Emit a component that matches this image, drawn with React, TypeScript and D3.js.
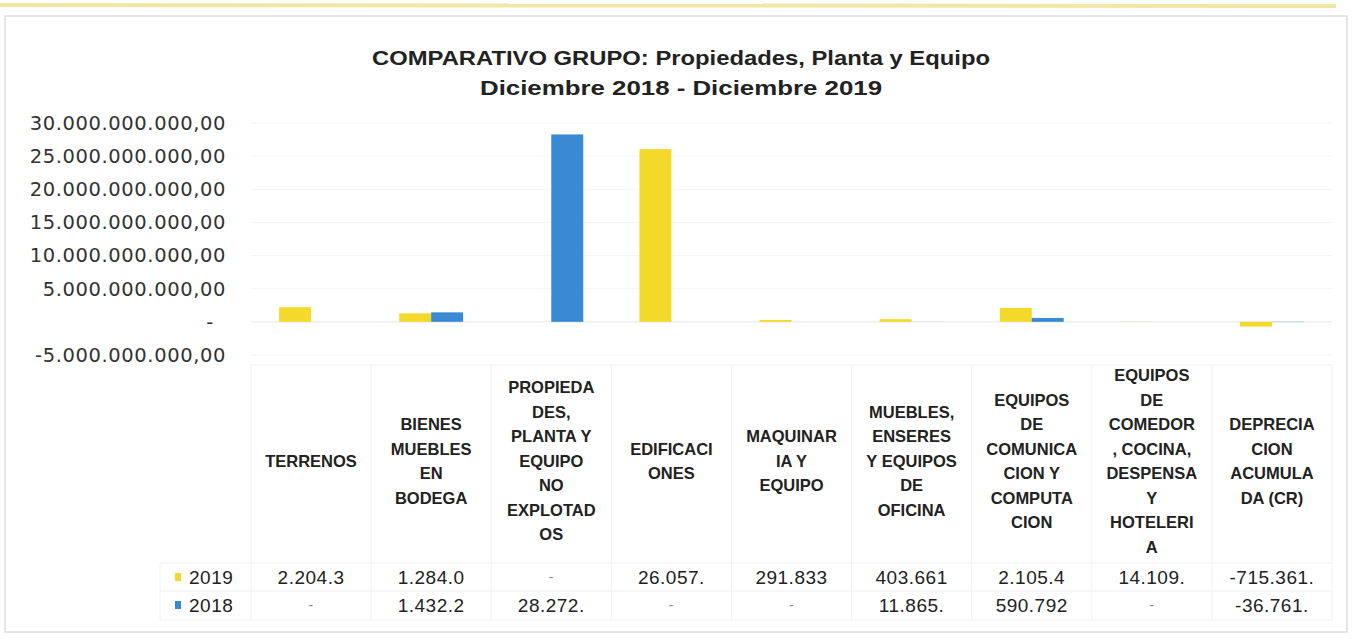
import React from "react";
import * as d3 from "d3";

const W = 1355;
const H = 639;

const categories = [
  "TERRENOS",
  "BIENES MUEBLES EN BODEGA",
  "PROPIEDADES, PLANTA Y EQUIPO NO EXPLOTADOS",
  "EDIFICACIONES",
  "MAQUINARIA Y EQUIPO",
  "MUEBLES, ENSERES Y EQUIPOS DE OFICINA",
  "EQUIPOS DE COMUNICACION Y COMPUTACION",
  "EQUIPOS DE COMEDOR, COCINA, DESPENSA Y HOTELERIA",
  "DEPRECIACION ACUMULADA (CR)",
];

const categoryLines = [
  ["TERRENOS"],
  ["BIENES", "MUEBLES", "EN", "BODEGA"],
  ["PROPIEDA", "DES,", "PLANTA Y", "EQUIPO", "NO", "EXPLOTAD", "OS"],
  ["EDIFICACI", "ONES"],
  ["MAQUINAR", "IA Y", "EQUIPO"],
  ["MUEBLES,", "ENSERES", "Y EQUIPOS", "DE", "OFICINA"],
  ["EQUIPOS", "DE", "COMUNICA", "CION Y", "COMPUTA", "CION"],
  ["EQUIPOS", "DE", "COMEDOR", ", COCINA,", "DESPENSA", "Y", "HOTELERI", "A"],
  ["DEPRECIA", "CION", "ACUMULA", "DA (CR)"],
];

const seriesNames = ["2019", "2018"];

const values2019 = [
  2204.3e6, 1284.0e6, 0, 26057e6, 291.833e6, 403.661e6, 2105.4e6, 14.109e6, -715.361e6,
];
const values2018 = [
  0, 1432.2e6, 28272e6, 0, 0, 11.865e6, 590.792e6, 0, -36.761e6,
];

const table2019 = ["2.204.3", "1.284.0", "-", "26.057.", "291.833", "403.661", "2.105.4", "14.109.", "-715.361."];
const table2018 = ["-", "1.432.2", "28.272.", "-", "-", "11.865.", "590.792", "-", "-36.761."];

const yTicks = [30e9, 25e9, 20e9, 15e9, 10e9, 5e9, 0, -5e9];
const yTickLabels = [
  "30.000.000.000,00",
  "25.000.000.000,00",
  "20.000.000.000,00",
  "15.000.000.000,00",
  "10.000.000.000,00",
  "5.000.000.000,00",
  "-",
  "-5.000.000.000,00",
];

const COLORS = ["#f3d92a", "#3a8ad3"];

export default function App() {
  const x = d3.scaleBand<number>().domain(d3.range(categories.length)).range([251, 1332]);
  const xs = d3
    .scaleBand<number>()
    .domain([0, 1])
    .range([0, x.bandwidth()])
    .paddingInner(0)
    .paddingOuter(0.88);
  const y = d3.scaleLinear().domain([-5e9, 30e9]).range([355, 123]);

  const series = [values2019, values2018];
  const tables = [table2019, table2018];

  const headerCenter = 461;
  const lineH = 24.5;
  const rowY = [577, 605];

  return (
    <svg
      width={W}
      height={H}
      style={{ position: "absolute", left: 0, top: 0, background: "#fff" }}
      fontFamily="'Liberation Sans', Arial, sans-serif"
    >
      <rect x={0} y={0} width={W} height={H} fill="#fff" />
      {/* scan highlight line */}
      <line x1={0} x2={1336} y1={5} y2={6} stroke="#f1e6a6" strokeWidth={4} />
      {/* chart frame */}
      <rect x={5} y={16} width={1342} height={616} fill="none" stroke="#d6d6d6" strokeWidth={1.2} />

      {/* title */}
      <text
        x={681}
        y={65}
        textAnchor="middle"
        fontFamily="'Liberation Sans Narrow', 'Liberation Sans', Arial, sans-serif"
        fontWeight="bold"
        fontSize={21}
        fill="#222"
        textLength={618}
        lengthAdjust="spacingAndGlyphs"
      >
        COMPARATIVO GRUPO: Propiedades, Planta y Equipo
      </text>
      <text
        x={681}
        y={95}
        textAnchor="middle"
        fontFamily="'Liberation Sans Narrow', 'Liberation Sans', Arial, sans-serif"
        fontWeight="bold"
        fontSize={21}
        fill="#222"
        textLength={402}
        lengthAdjust="spacingAndGlyphs"
      >
        Diciembre 2018 - Diciembre 2019
      </text>

      {/* gridlines */}
      {yTicks.map((t, i) => (
        <line key={"g" + i} x1={251} x2={1332} y1={y(t)} y2={y(t)} stroke="#f4f4f4" strokeWidth={1} />
      ))}
      <line x1={251} x2={1332} y1={y(0)} y2={y(0)} stroke="#ebebeb" strokeWidth={1} />

      {/* y axis labels */}
      {yTicks.map((t, i) => (
        <text
          key={"yl" + i}
          x={t === 0 ? 214 : 226}
          y={y(t)}
          dy="0.35em"
          textAnchor="end"
          fontFamily="'DejaVu Sans', sans-serif"
          fontSize={19.5}
          letterSpacing={0.6}
          fill="#333"
        >
          {yTickLabels[i]}
        </text>
      ))}

      {/* bars */}
      {series.map((vals, s) =>
        vals.map((v, i) =>
          v === 0 ? null : (
            <rect
              key={`b${s}-${i}`}
              x={(x(i) as number) + (xs(s) as number)}
              width={xs.bandwidth()}
              y={Math.min(y(v), y(0))}
              height={Math.abs(y(v) - y(0))}
              fill={COLORS[s]}
            />
          )
        )
      )}

      {/* data table grid */}
      {[365, 563, 591, 620].map((yy, i) => (
        <line key={"th" + i} x1={i === 0 ? 251 : 160} x2={1332} y1={yy} y2={yy} stroke="#efefef" strokeWidth={1} />
      ))}
      {d3.range(categories.length + 1).map((i) => {
        const xx = i < categories.length ? (x(i) as number) : 1332;
        return <line key={"tv" + i} x1={xx} x2={xx} y1={365} y2={620} stroke="#f2f2f2" strokeWidth={1} />;
      })}
      <line x1={160} x2={160} y1={563} y2={620} stroke="#f2f2f2" strokeWidth={1} />

      {/* category labels */}
      {categoryLines.map((lines, i) => {
        const cx = (x(i) as number) + x.bandwidth() / 2;
        const top = headerCenter - ((lines.length - 1) * lineH) / 2;
        return (
          <text
            key={"c" + i}
            textAnchor="middle"
            fontWeight="bold"
            fontSize={16.5}
            fill="#222"
          >
            {lines.map((ln, j) => (
              <tspan key={j} x={cx} y={top + j * lineH} dy="0.35em">
                {ln}
              </tspan>
            ))}
          </text>
        );
      })}

      {/* legend + table values */}
      {seriesNames.map((name, s) => (
        <g key={"row" + s}>
          <rect x={175} y={rowY[s] - 4} width={6} height={8} fill={COLORS[s]} />
          <text x={189} y={rowY[s]} dy="0.35em" fontSize={19} fill="#222" letterSpacing={0.5}>
            {name}
          </text>
          {tables[s].map((t, i) => (
            <text
              key={i}
              x={(x(i) as number) + x.bandwidth() / 2}
              y={rowY[s]}
              dy="0.35em"
              textAnchor="middle"
              fontSize={t === "-" ? 14 : 19}
              fill={t === "-" ? "#888" : "#222"}
              letterSpacing={0.5}
            >
              {t}
            </text>
          ))}
        </g>
      ))}
    </svg>
  );
}
